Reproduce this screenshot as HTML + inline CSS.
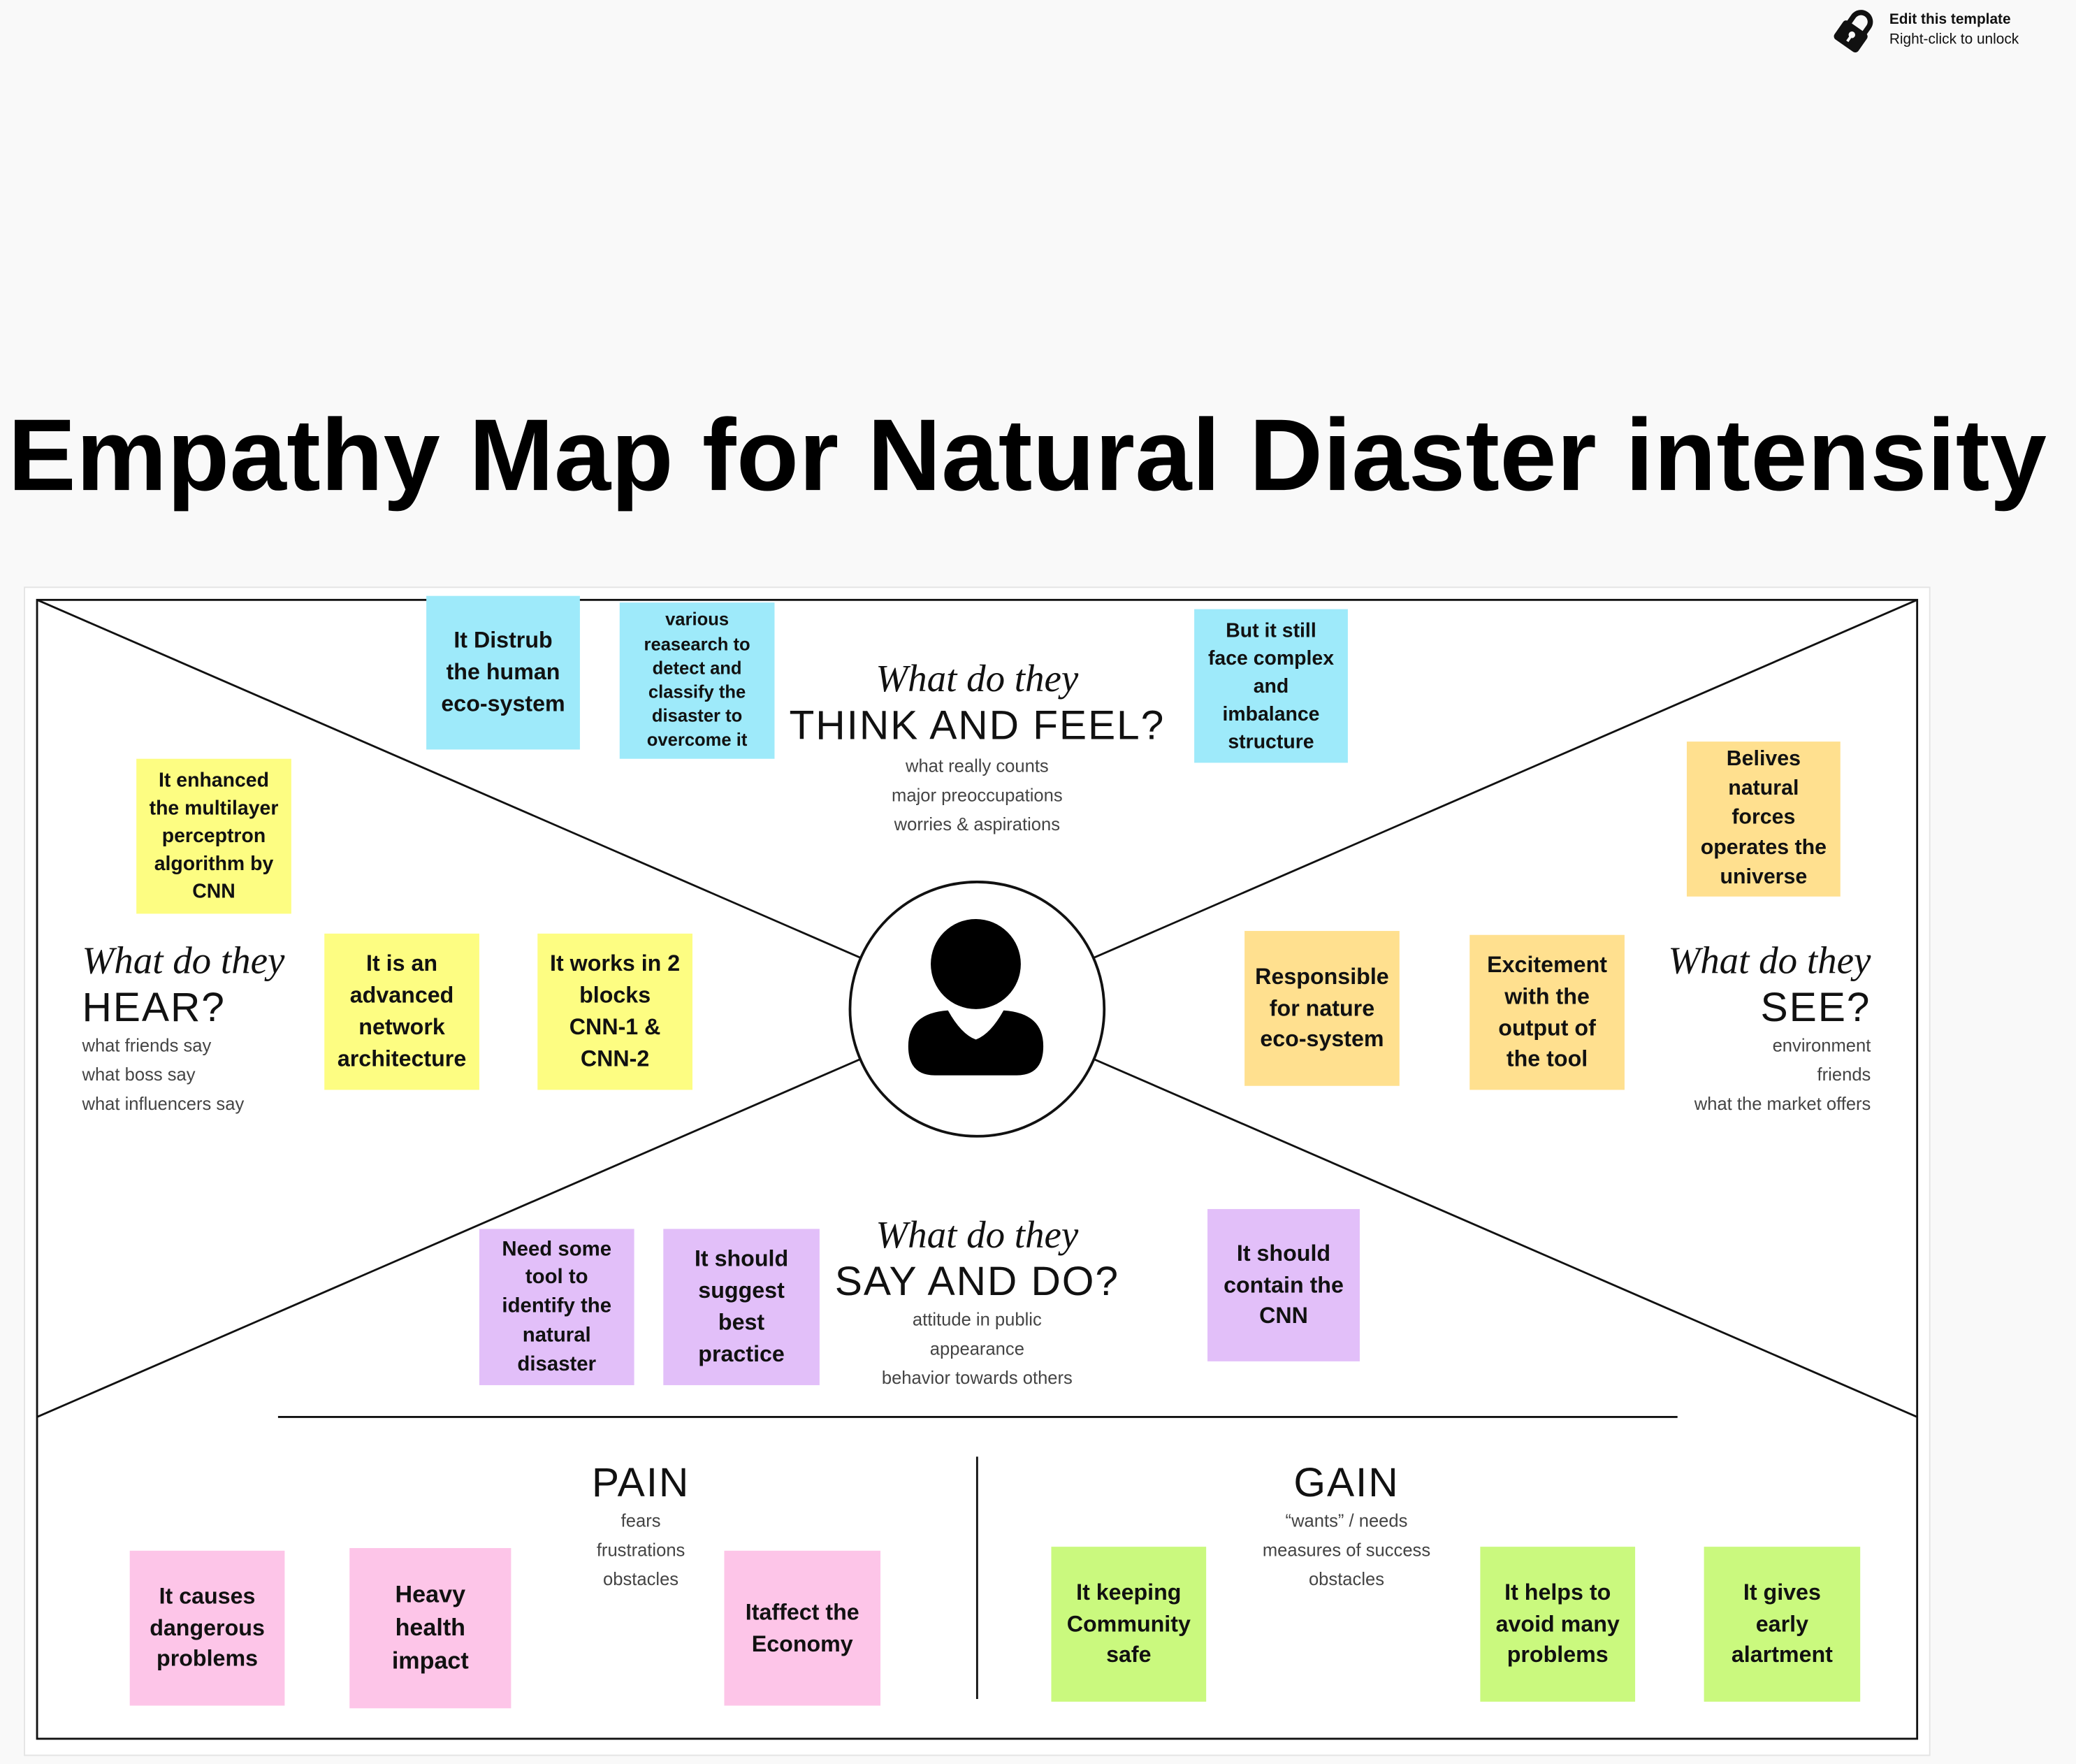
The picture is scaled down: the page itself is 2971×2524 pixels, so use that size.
<!DOCTYPE html>
<html><head><meta charset="utf-8"><style>
html,body{margin:0;padding:0;background:#f9f9f9;width:2971px;height:2523px;overflow:hidden}
#s{position:absolute;left:0;top:0;width:1568px;height:1332px;transform:scale(1.8948);transform-origin:0 0;font-family:"Liberation Sans",sans-serif}
.a{position:absolute}
.n{position:absolute;display:flex;align-items:center;justify-content:center;text-align:center;font-weight:bold;color:#111;box-sizing:border-box;padding:0;line-height:1.4;white-space:nowrap}
.c{background:#9eeafa}.y{background:#fdfd82}.o{background:#ffe08f}.p{background:#e2bff9}.k{background:#fdc5e8}.g{background:#caf97e}
.h{font-family:"Liberation Serif",serif;font-style:italic;font-size:29px;color:#111}
.t{font-size:31px;letter-spacing:1px;color:#111}
.sub{font-size:13.5px;color:#444;line-height:22px}
</style></head><body><div id="s">
<svg class="a" style="left:1383px;top:5px" width="36" height="36" viewBox="0 0 36 36"><g transform="rotate(35 18 18)"><rect x="7" y="15" width="22" height="17" rx="3" fill="#111"/><path d="M11 16 V10 a7 7 0 0 1 14 0 V16" fill="none" stroke="#111" stroke-width="4"/><circle cx="18" cy="22" r="2.5" fill="#f9f9f9"/><rect x="17" y="23" width="2" height="5" fill="#f9f9f9"/></g></svg>
<div class="a" style="left:1427px;top:8px;font-size:11px;line-height:15px;color:#111"><b>Edit this template</b><br>Right-click to unlock</div>
<div class="a" style="left:6px;top:300px;font-size:77px;font-weight:bold;color:#000;white-space:nowrap;letter-spacing:0.2px">Empathy Map for Natural Diaster intensity</div>
<div class="a" style="left:18px;top:443px;width:1440px;height:883px;background:#fff;border:1px solid #e4e4e4;box-sizing:border-box"></div>
<svg class="a" style="left:0;top:0" width="1568" height="1332">
<g stroke="#111" stroke-width="1.5" fill="none">
<rect x="28" y="453" width="1420" height="860"/>
<line x1="28" y1="453" x2="1448" y2="1070"/>
<line x1="1448" y1="453" x2="28" y2="1070"/>
<line x1="210" y1="1070" x2="1267" y2="1070"/>
<line x1="738" y1="1100" x2="738" y2="1283"/>
</g>
<circle cx="738" cy="762" r="96" fill="#fff" stroke="#111" stroke-width="2"/>
<circle cx="737" cy="728" r="34" fill="#000"/>
<path d="M686 790 q0 -25 30 -27 q10 18 21 22 q11 -4 21 -22 q30 2 30 27 q0 22 -20 22 h-62 q-20 0 -20 -22z" fill="#000"/>
</svg>
<div class="a" style="left:588px;top:497px;width:300px;text-align:center"><div class="h">What do they</div><div class="t">THINK AND FEEL?</div><div class="sub" style="margin-top:2px">what really counts<br>major preoccupations<br>worries &amp; aspirations</div></div>
<div class="a" style="left:62px;top:710px;width:200px"><div class="h">What do they</div><div class="t">HEAR?</div><div class="sub">what friends say<br>what boss say<br>what influencers say</div></div>
<div class="a" style="left:1213px;top:710px;width:200px;text-align:right"><div class="h">What do they</div><div class="t">SEE?</div><div class="sub">environment<br>friends<br>what the market offers</div></div>
<div class="a" style="left:588px;top:917px;width:300px;text-align:center"><div class="h">What do they</div><div class="t">SAY AND DO?</div><div class="sub">attitude in public<br>appearance<br>behavior towards others</div></div>
<div class="a" style="left:384px;top:1102px;width:200px;text-align:center"><div class="t">PAIN</div><div class="sub">fears<br>frustrations<br>obstacles</div></div>
<div class="a" style="left:917px;top:1102px;width:200px;text-align:center"><div class="t">GAIN</div><div class="sub">“wants” / needs<br>measures of success<br>obstacles</div></div>

<div class="n c" style="left:322px;top:450px;width:116px;height:116px;font-size:17px">It Distrub<br>the human<br>eco-system</div>
<div class="n c" style="left:468px;top:455px;width:117px;height:118px;font-size:13.5px;line-height:1.35">various<br>reasearch to<br>detect and<br>classify the<br>disaster to<br>overcome it</div>
<div class="n c" style="left:902px;top:460px;width:116px;height:116px;font-size:15px">But it still<br>face complex<br>and<br>imbalance<br>structure</div>
<div class="n y" style="left:103px;top:573px;width:117px;height:117px;font-size:15px">It enhanced<br>the multilayer<br>perceptron<br>algorithm by<br>CNN</div>
<div class="n y" style="left:245px;top:705px;width:117px;height:118px;font-size:17px">It is an<br>advanced<br>network<br>architecture</div>
<div class="n y" style="left:406px;top:705px;width:117px;height:118px;font-size:17px">It works in 2<br>blocks<br>CNN-1 &amp;<br>CNN-2</div>
<div class="n o" style="left:1274px;top:560px;width:116px;height:117px;font-size:16px">Belives<br>natural<br>forces<br>operates the<br>universe</div>
<div class="n o" style="left:940px;top:703px;width:117px;height:117px;font-size:17px">Responsible<br>for nature<br>eco-system</div>
<div class="n o" style="left:1110px;top:706px;width:117px;height:117px;font-size:17px">Excitement<br>with the<br>output of<br>the tool</div>
<div class="n p" style="left:362px;top:928px;width:117px;height:118px;font-size:15.5px">Need some<br>tool to<br>identify the<br>natural<br>disaster</div>
<div class="n p" style="left:501px;top:928px;width:118px;height:118px;font-size:17px">It should<br>suggest<br>best<br>practice</div>
<div class="n p" style="left:912px;top:913px;width:115px;height:115px;font-size:17px">It should<br>contain the<br>CNN</div>
<div class="n k" style="left:98px;top:1171px;width:117px;height:117px;font-size:17px">It causes<br>dangerous<br>problems</div>
<div class="n k" style="left:264px;top:1169px;width:122px;height:121px;font-size:18px">Heavy<br>health<br>impact</div>
<div class="n k" style="left:547px;top:1171px;width:118px;height:117px;font-size:17px">Itaffect the<br>Economy</div>
<div class="n g" style="left:794px;top:1168px;width:117px;height:117px;font-size:17px">It keeping<br>Community<br>safe</div>
<div class="n g" style="left:1118px;top:1168px;width:117px;height:117px;font-size:17px">It helps to<br>avoid many<br>problems</div>
<div class="n g" style="left:1287px;top:1168px;width:118px;height:117px;font-size:17px">It gives<br>early<br>alartment</div>
</div></body></html>
